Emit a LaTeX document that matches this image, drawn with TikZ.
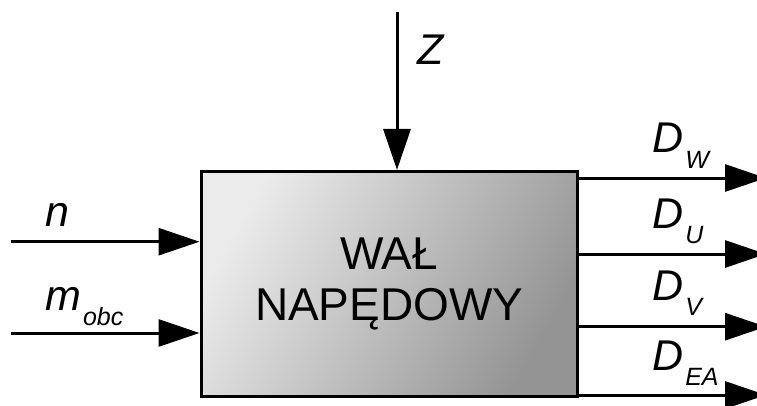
\documentclass[tikz,border=0pt]{standalone}
\usepackage{fontspec}
\setmainfont{Liberation Sans}
\usetikzlibrary{arrows.meta}
\newcommand{\lblsub}[2]{#1\kern2pt\raisebox{-15pt}{\fontsize{25}{25}\selectfont #2}}
\begin{document}
\begin{tikzpicture}[x=1pt,y=1pt,
  conn/.style={line width=3pt,-{Triangle[length=41pt,width=27pt]}},
  lbl/.style={inner sep=0pt,anchor=base west,font=\fontsize{43}{43}\selectfont\itshape},
  blk/.style={draw=black,line width=3pt,minimum width=376.5pt,minimum height=225pt,
    top color=white!92!black,bottom color=white!58!black,shading angle=60,
    align=center,font=\fontsize{46}{50.7}\selectfont,inner sep=0pt}]
\clip (0,0) rectangle (757,405);
\node[blk] (box) at (389.25,121) {WAŁ\\NAPĘDOWY};
% inputs
\coordinate (zs) at (397,393);
\coordinate (ns) at (10.7,163.3);
\coordinate (ms) at (10.7,72);
\draw[conn] (zs) -- (zs |- box.north);
\draw[conn] (ns) -- (ns -| box.west);
\draw[conn] (ms) -- (ms -| box.west);
% outputs
\coordinate (dw) at (766,227);
\coordinate (du) at (766,151);
\coordinate (dv) at (766,78.3);
\coordinate (dea) at (766,10);
\draw[conn] (dw -| box.east) -- (dw);
\draw[conn] (du -| box.east) -- (du);
\draw[conn] (dv -| box.east) -- (dv);
\draw[conn] (dea -| box.east) -- (dea);
% labels
\node[lbl] (lz) at (417,340) {Z};
\node[lbl] (ln) at (45,178.3) {n};
\node[lbl] (lm) at (45,95) {\lblsub{m}{obc}};
\node[lbl] (ldw) at (652,252) {\lblsub{D}{W}};
\node[lbl] (ldu) at (652,177) {\lblsub{D}{U}};
\node[lbl] (ldv) at (652,105) {\lblsub{D}{V}};
\node[lbl] (ldea) at (652,35) {\lblsub{D}{EA}};
\end{tikzpicture}
\end{document}
